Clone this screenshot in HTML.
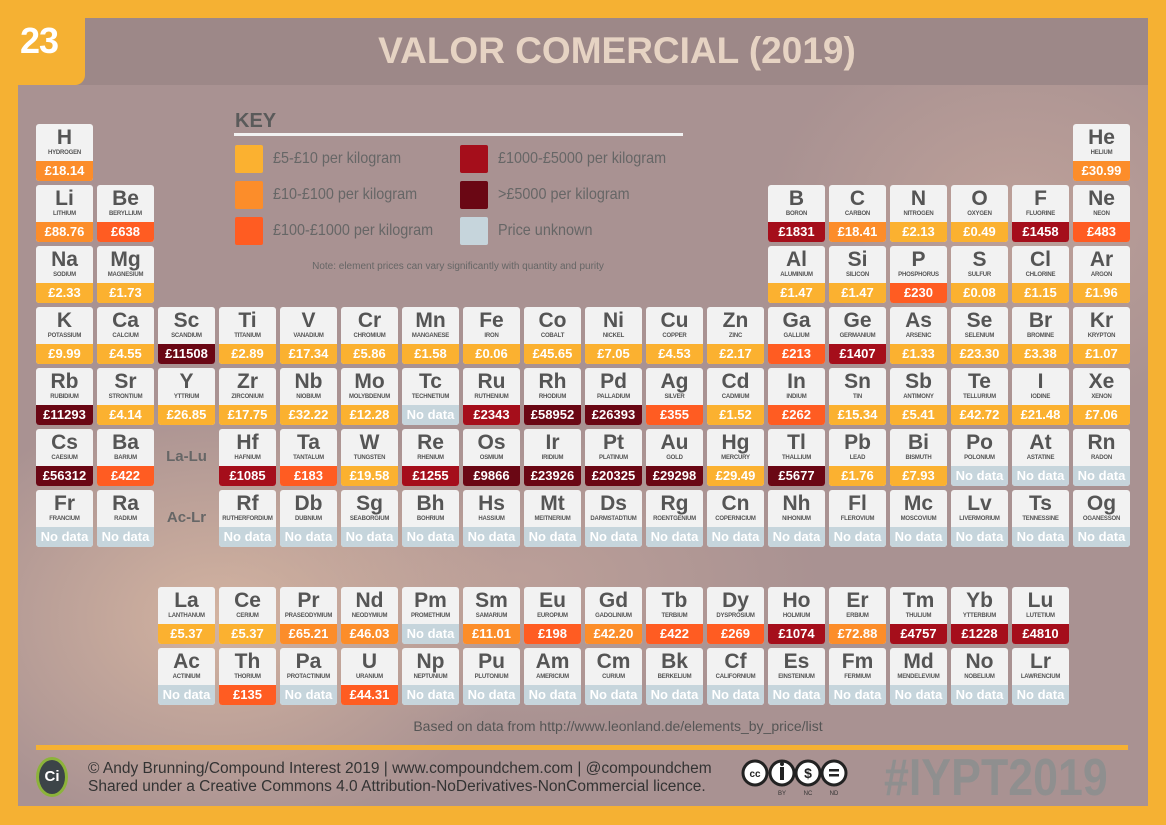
<!DOCTYPE html>
<html><head><meta charset="utf-8"><style>
*{margin:0;padding:0;box-sizing:border-box}
body{width:1166px;height:825px;background:#F5B133;position:relative;overflow:hidden;font-family:"Liberation Sans",sans-serif}
#panel{position:absolute;left:18px;top:18px;width:1130px;height:788px;background:radial-gradient(ellipse 300px 220px at 200px 600px,rgba(225,190,165,.75),rgba(225,190,165,0)),radial-gradient(ellipse 250px 200px at 1000px 200px,rgba(210,175,160,.5),rgba(0,0,0,0)),radial-gradient(ellipse 300px 150px at 500px 560px,rgba(210,175,160,.45),rgba(0,0,0,0)),#a99292}
#hdr{position:absolute;left:18px;top:18px;width:1130px;height:67px;background:#9d8888}
#badge{position:absolute;left:0;top:0;width:85px;height:85px;background:#F5B133;border-bottom-right-radius:10px;color:#fff;font-weight:bold;font-size:36px;padding:20px 0 0 20px;letter-spacing:-1px}
#title{position:absolute;left:52px;width:1130px;top:30px;text-align:center;color:#e6d3c3;font-weight:bold;font-size:37px}
.c{position:absolute;width:57px;height:57px;background:#f2f2f2;border-radius:3px;overflow:hidden;text-align:center}
.c b{display:block;font-size:21px;color:#555;line-height:22px;margin-top:3px}
.c i{display:block;font-style:normal;font-size:6px;color:#555;font-weight:bold;line-height:8px;height:11px;white-space:nowrap;letter-spacing:-.2px}
.c u{position:absolute;left:0;bottom:0;width:57px;height:20px;text-decoration:none;color:#fff;font-weight:bold;font-size:13px;line-height:20px;background:#c6d5dc}
.y u{background:#FBB130}.o u{background:#FC8D2A}.r u{background:#FF5C22}.d u{background:#A50E1B}.k u{background:#6A0714}
.sw{position:absolute;width:28px;height:28px;border-radius:2px}
.kt{position:absolute;font-size:16px;color:#666;white-space:nowrap;transform:scaleX(.9);transform-origin:left}
.lbl{position:absolute;font-size:15px;font-weight:bold;color:#666;width:57px;text-align:center}
</style></head><body>
<div id="panel"></div><div id="hdr"></div>
<div id="badge">23</div>
<div id="title">VALOR COMERCIAL (2019)</div>
<div style="position:absolute;left:235px;top:110px;font-size:20px;font-weight:bold;color:#5a5a5a">KEY</div>
<div style="position:absolute;left:234px;top:133px;width:449px;height:3px;background:#f2f2f2"></div>
<div class="sw" style="left:235px;top:145px;background:#FBB130"></div><div class="kt" style="left:273px;top:150px">£5-£10 per kilogram</div>
<div class="sw" style="left:235px;top:181px;background:#FC8D2A"></div><div class="kt" style="left:273px;top:186px">£10-£100 per kilogram</div>
<div class="sw" style="left:235px;top:217px;background:#FF5C22"></div><div class="kt" style="left:273px;top:222px">£100-£1000 per kilogram</div>
<div class="sw" style="left:460px;top:145px;background:#A50E1B"></div><div class="kt" style="left:498px;top:150px">£1000-£5000 per kilogram</div>
<div class="sw" style="left:460px;top:181px;background:#6A0714"></div><div class="kt" style="left:498px;top:186px">&gt;£5000 per kilogram</div>
<div class="sw" style="left:460px;top:217px;background:#c6d5dc"></div><div class="kt" style="left:498px;top:222px">Price unknown</div>
<div style="position:absolute;left:220px;width:476px;top:261px;text-align:center;font-size:10px;color:#666">Note: element prices can vary significantly with quantity and purity</div>

<div class="c o" style="left:36px;top:124px"><b>H</b><i>HYDROGEN</i><u>£18.14</u></div>
<div class="c o" style="left:1073px;top:124px"><b>He</b><i>HELIUM</i><u>£30.99</u></div>

<div class="c o" style="left:36px;top:185px"><b>Li</b><i>LITHIUM</i><u>£88.76</u></div>
<div class="c r" style="left:97px;top:185px"><b>Be</b><i>BERYLLIUM</i><u>£638</u></div>
<div class="c d" style="left:768px;top:185px"><b>B</b><i>BORON</i><u>£1831</u></div>
<div class="c o" style="left:829px;top:185px"><b>C</b><i>CARBON</i><u>£18.41</u></div>
<div class="c y" style="left:890px;top:185px"><b>N</b><i>NITROGEN</i><u>£2.13</u></div>
<div class="c y" style="left:951px;top:185px"><b>O</b><i>OXYGEN</i><u>£0.49</u></div>
<div class="c d" style="left:1012px;top:185px"><b>F</b><i>FLUORINE</i><u>£1458</u></div>
<div class="c r" style="left:1073px;top:185px"><b>Ne</b><i>NEON</i><u>£483</u></div>

<div class="c y" style="left:36px;top:246px"><b>Na</b><i>SODIUM</i><u>£2.33</u></div>
<div class="c y" style="left:97px;top:246px"><b>Mg</b><i>MAGNESIUM</i><u>£1.73</u></div>
<div class="c y" style="left:768px;top:246px"><b>Al</b><i>ALUMINIUM</i><u>£1.47</u></div>
<div class="c y" style="left:829px;top:246px"><b>Si</b><i>SILICON</i><u>£1.47</u></div>
<div class="c r" style="left:890px;top:246px"><b>P</b><i>PHOSPHORUS</i><u>£230</u></div>
<div class="c y" style="left:951px;top:246px"><b>S</b><i>SULFUR</i><u>£0.08</u></div>
<div class="c y" style="left:1012px;top:246px"><b>Cl</b><i>CHLORINE</i><u>£1.15</u></div>
<div class="c y" style="left:1073px;top:246px"><b>Ar</b><i>ARGON</i><u>£1.96</u></div>

<div class="c y" style="left:36px;top:307px"><b>K</b><i>POTASSIUM</i><u>£9.99</u></div>
<div class="c y" style="left:97px;top:307px"><b>Ca</b><i>CALCIUM</i><u>£4.55</u></div>
<div class="c k" style="left:158px;top:307px"><b>Sc</b><i>SCANDIUM</i><u>£11508</u></div>
<div class="c y" style="left:219px;top:307px"><b>Ti</b><i>TITANIUM</i><u>£2.89</u></div>
<div class="c y" style="left:280px;top:307px"><b>V</b><i>VANADIUM</i><u>£17.34</u></div>
<div class="c y" style="left:341px;top:307px"><b>Cr</b><i>CHROMIUM</i><u>£5.86</u></div>
<div class="c y" style="left:402px;top:307px"><b>Mn</b><i>MANGANESE</i><u>£1.58</u></div>
<div class="c y" style="left:463px;top:307px"><b>Fe</b><i>IRON</i><u>£0.06</u></div>
<div class="c y" style="left:524px;top:307px"><b>Co</b><i>COBALT</i><u>£45.65</u></div>
<div class="c y" style="left:585px;top:307px"><b>Ni</b><i>NICKEL</i><u>£7.05</u></div>
<div class="c y" style="left:646px;top:307px"><b>Cu</b><i>COPPER</i><u>£4.53</u></div>
<div class="c y" style="left:707px;top:307px"><b>Zn</b><i>ZINC</i><u>£2.17</u></div>
<div class="c r" style="left:768px;top:307px"><b>Ga</b><i>GALLIUM</i><u>£213</u></div>
<div class="c d" style="left:829px;top:307px"><b>Ge</b><i>GERMANIUM</i><u>£1407</u></div>
<div class="c y" style="left:890px;top:307px"><b>As</b><i>ARSENIC</i><u>£1.33</u></div>
<div class="c y" style="left:951px;top:307px"><b>Se</b><i>SELENIUM</i><u>£23.30</u></div>
<div class="c y" style="left:1012px;top:307px"><b>Br</b><i>BROMINE</i><u>£3.38</u></div>
<div class="c y" style="left:1073px;top:307px"><b>Kr</b><i>KRYPTON</i><u>£1.07</u></div>

<div class="c k" style="left:36px;top:368px"><b>Rb</b><i>RUBIDIUM</i><u>£11293</u></div>
<div class="c y" style="left:97px;top:368px"><b>Sr</b><i>STRONTIUM</i><u>£4.14</u></div>
<div class="c y" style="left:158px;top:368px"><b>Y</b><i>YTTRIUM</i><u>£26.85</u></div>
<div class="c y" style="left:219px;top:368px"><b>Zr</b><i>ZIRCONIUM</i><u>£17.75</u></div>
<div class="c y" style="left:280px;top:368px"><b>Nb</b><i>NIOBIUM</i><u>£32.22</u></div>
<div class="c y" style="left:341px;top:368px"><b>Mo</b><i>MOLYBDENUM</i><u>£12.28</u></div>
<div class="c" style="left:402px;top:368px"><b>Tc</b><i>TECHNETIUM</i><u>No data</u></div>
<div class="c d" style="left:463px;top:368px"><b>Ru</b><i>RUTHENIUM</i><u>£2343</u></div>
<div class="c k" style="left:524px;top:368px"><b>Rh</b><i>RHODIUM</i><u>£58952</u></div>
<div class="c k" style="left:585px;top:368px"><b>Pd</b><i>PALLADIUM</i><u>£26393</u></div>
<div class="c r" style="left:646px;top:368px"><b>Ag</b><i>SILVER</i><u>£355</u></div>
<div class="c y" style="left:707px;top:368px"><b>Cd</b><i>CADMIUM</i><u>£1.52</u></div>
<div class="c r" style="left:768px;top:368px"><b>In</b><i>INDIUM</i><u>£262</u></div>
<div class="c y" style="left:829px;top:368px"><b>Sn</b><i>TIN</i><u>£15.34</u></div>
<div class="c y" style="left:890px;top:368px"><b>Sb</b><i>ANTIMONY</i><u>£5.41</u></div>
<div class="c y" style="left:951px;top:368px"><b>Te</b><i>TELLURIUM</i><u>£42.72</u></div>
<div class="c y" style="left:1012px;top:368px"><b>I</b><i>IODINE</i><u>£21.48</u></div>
<div class="c y" style="left:1073px;top:368px"><b>Xe</b><i>XENON</i><u>£7.06</u></div>

<div class="c k" style="left:36px;top:429px"><b>Cs</b><i>CAESIUM</i><u>£56312</u></div>
<div class="c r" style="left:97px;top:429px"><b>Ba</b><i>BARIUM</i><u>£422</u></div>
<div class="lbl" style="left:158px;top:448px">La-Lu</div>
<div class="c d" style="left:219px;top:429px"><b>Hf</b><i>HAFNIUM</i><u>£1085</u></div>
<div class="c r" style="left:280px;top:429px"><b>Ta</b><i>TANTALUM</i><u>£183</u></div>
<div class="c y" style="left:341px;top:429px"><b>W</b><i>TUNGSTEN</i><u>£19.58</u></div>
<div class="c d" style="left:402px;top:429px"><b>Re</b><i>RHENIUM</i><u>£1255</u></div>
<div class="c k" style="left:463px;top:429px"><b>Os</b><i>OSMIUM</i><u>£9866</u></div>
<div class="c k" style="left:524px;top:429px"><b>Ir</b><i>IRIDIUM</i><u>£23926</u></div>
<div class="c k" style="left:585px;top:429px"><b>Pt</b><i>PLATINUM</i><u>£20325</u></div>
<div class="c k" style="left:646px;top:429px"><b>Au</b><i>GOLD</i><u>£29298</u></div>
<div class="c y" style="left:707px;top:429px"><b>Hg</b><i>MERCURY</i><u>£29.49</u></div>
<div class="c k" style="left:768px;top:429px"><b>Tl</b><i>THALLIUM</i><u>£5677</u></div>
<div class="c y" style="left:829px;top:429px"><b>Pb</b><i>LEAD</i><u>£1.76</u></div>
<div class="c y" style="left:890px;top:429px"><b>Bi</b><i>BISMUTH</i><u>£7.93</u></div>
<div class="c" style="left:951px;top:429px"><b>Po</b><i>POLONIUM</i><u>No data</u></div>
<div class="c" style="left:1012px;top:429px"><b>At</b><i>ASTATINE</i><u>No data</u></div>
<div class="c" style="left:1073px;top:429px"><b>Rn</b><i>RADON</i><u>No data</u></div>

<div class="c" style="left:36px;top:490px"><b>Fr</b><i>FRANCIUM</i><u>No data</u></div>
<div class="c" style="left:97px;top:490px"><b>Ra</b><i>RADIUM</i><u>No data</u></div>
<div class="lbl" style="left:158px;top:509px">Ac-Lr</div>
<div class="c" style="left:219px;top:490px"><b>Rf</b><i>RUTHERFORDIUM</i><u>No data</u></div>
<div class="c" style="left:280px;top:490px"><b>Db</b><i>DUBNIUM</i><u>No data</u></div>
<div class="c" style="left:341px;top:490px"><b>Sg</b><i>SEABORGIUM</i><u>No data</u></div>
<div class="c" style="left:402px;top:490px"><b>Bh</b><i>BOHRIUM</i><u>No data</u></div>
<div class="c" style="left:463px;top:490px"><b>Hs</b><i>HASSIUM</i><u>No data</u></div>
<div class="c" style="left:524px;top:490px"><b>Mt</b><i>MEITNERIUM</i><u>No data</u></div>
<div class="c" style="left:585px;top:490px"><b>Ds</b><i>DARMSTADTIUM</i><u>No data</u></div>
<div class="c" style="left:646px;top:490px"><b>Rg</b><i>ROENTGENIUM</i><u>No data</u></div>
<div class="c" style="left:707px;top:490px"><b>Cn</b><i>COPERNICIUM</i><u>No data</u></div>
<div class="c" style="left:768px;top:490px"><b>Nh</b><i>NIHONIUM</i><u>No data</u></div>
<div class="c" style="left:829px;top:490px"><b>Fl</b><i>FLEROVIUM</i><u>No data</u></div>
<div class="c" style="left:890px;top:490px"><b>Mc</b><i>MOSCOVIUM</i><u>No data</u></div>
<div class="c" style="left:951px;top:490px"><b>Lv</b><i>LIVERMORIUM</i><u>No data</u></div>
<div class="c" style="left:1012px;top:490px"><b>Ts</b><i>TENNESSINE</i><u>No data</u></div>
<div class="c" style="left:1073px;top:490px"><b>Og</b><i>OGANESSON</i><u>No data</u></div>

<div class="c y" style="left:158px;top:587px"><b>La</b><i>LANTHANUM</i><u>£5.37</u></div>
<div class="c y" style="left:219px;top:587px"><b>Ce</b><i>CERIUM</i><u>£5.37</u></div>
<div class="c o" style="left:280px;top:587px"><b>Pr</b><i>PRASEODYMIUM</i><u>£65.21</u></div>
<div class="c o" style="left:341px;top:587px"><b>Nd</b><i>NEODYMIUM</i><u>£46.03</u></div>
<div class="c" style="left:402px;top:587px"><b>Pm</b><i>PROMETHIUM</i><u>No data</u></div>
<div class="c o" style="left:463px;top:587px"><b>Sm</b><i>SAMARIUM</i><u>£11.01</u></div>
<div class="c r" style="left:524px;top:587px"><b>Eu</b><i>EUROPIUM</i><u>£198</u></div>
<div class="c o" style="left:585px;top:587px"><b>Gd</b><i>GADOLINIUM</i><u>£42.20</u></div>
<div class="c r" style="left:646px;top:587px"><b>Tb</b><i>TERBIUM</i><u>£422</u></div>
<div class="c r" style="left:707px;top:587px"><b>Dy</b><i>DYSPROSIUM</i><u>£269</u></div>
<div class="c d" style="left:768px;top:587px"><b>Ho</b><i>HOLMIUM</i><u>£1074</u></div>
<div class="c o" style="left:829px;top:587px"><b>Er</b><i>ERBIUM</i><u>£72.88</u></div>
<div class="c d" style="left:890px;top:587px"><b>Tm</b><i>THULIUM</i><u>£4757</u></div>
<div class="c d" style="left:951px;top:587px"><b>Yb</b><i>YTTERBIUM</i><u>£1228</u></div>
<div class="c d" style="left:1012px;top:587px"><b>Lu</b><i>LUTETIUM</i><u>£4810</u></div>

<div class="c" style="left:158px;top:648px"><b>Ac</b><i>ACTINIUM</i><u>No data</u></div>
<div class="c r" style="left:219px;top:648px"><b>Th</b><i>THORIUM</i><u>£135</u></div>
<div class="c" style="left:280px;top:648px"><b>Pa</b><i>PROTACTINIUM</i><u>No data</u></div>
<div class="c r" style="left:341px;top:648px"><b>U</b><i>URANIUM</i><u>£44.31</u></div>
<div class="c" style="left:402px;top:648px"><b>Np</b><i>NEPTUNIUM</i><u>No data</u></div>
<div class="c" style="left:463px;top:648px"><b>Pu</b><i>PLUTONIUM</i><u>No data</u></div>
<div class="c" style="left:524px;top:648px"><b>Am</b><i>AMERICIUM</i><u>No data</u></div>
<div class="c" style="left:585px;top:648px"><b>Cm</b><i>CURIUM</i><u>No data</u></div>
<div class="c" style="left:646px;top:648px"><b>Bk</b><i>BERKELIUM</i><u>No data</u></div>
<div class="c" style="left:707px;top:648px"><b>Cf</b><i>CALIFORNIUM</i><u>No data</u></div>
<div class="c" style="left:768px;top:648px"><b>Es</b><i>EINSTEINIUM</i><u>No data</u></div>
<div class="c" style="left:829px;top:648px"><b>Fm</b><i>FERMIUM</i><u>No data</u></div>
<div class="c" style="left:890px;top:648px"><b>Md</b><i>MENDELEVIUM</i><u>No data</u></div>
<div class="c" style="left:951px;top:648px"><b>No</b><i>NOBELIUM</i><u>No data</u></div>
<div class="c" style="left:1012px;top:648px"><b>Lr</b><i>LAWRENCIUM</i><u>No data</u></div>

<div style="position:absolute;left:0;width:1236px;top:718px;text-align:center;font-size:14px;color:#555">Based on data from http://www.leonland.de/elements_by_price/list</div>
<div style="position:absolute;left:36px;top:745px;width:1092px;height:5px;background:#F5B133"></div>
<div style="position:absolute;left:36px;top:757px;width:32px;height:40px;border-radius:50%;border:3px solid #8cb33a;background:#3c4448;color:#fff;font-weight:bold;font-size:15px;text-align:center;line-height:34px">Ci</div>
<div style="position:absolute;left:88px;top:760px;font-size:15.5px;color:#333;line-height:18px;white-space:nowrap">© Andy Brunning/Compound Interest 2019 | www.compoundchem.com | @compoundchem<br>Shared under a Creative Commons 4.0 Attribution-NoDerivatives-NonCommercial licence.</div>
<svg style="position:absolute;left:740px;top:758px" width="120" height="40">
<g fill="#fff" stroke="#222" stroke-width="3"><circle cx="15" cy="15" r="12"/><circle cx="42" cy="15" r="12"/><circle cx="68" cy="15" r="12"/><circle cx="94" cy="15" r="12"/></g>
<text x="15" y="19" font-size="10" font-weight="bold" text-anchor="middle" fill="#222">cc</text>
<rect x="40" y="9" width="4" height="13" fill="#222"/><circle cx="42" cy="6" r="2" fill="#222"/>
<text x="68" y="20" font-size="14" font-weight="bold" text-anchor="middle" fill="#222">$</text>
<rect x="89" y="11" width="10" height="2.5" fill="#222"/><rect x="89" y="16" width="10" height="2.5" fill="#222"/>
<text x="42" y="37" font-size="6" text-anchor="middle" fill="#333">BY</text><text x="68" y="37" font-size="6" text-anchor="middle" fill="#333">NC</text><text x="94" y="37" font-size="6" text-anchor="middle" fill="#333">ND</text>
</svg>
<div style="position:absolute;left:884px;top:748px;font-size:52px;font-weight:bold;color:#8f8f8f;white-space:nowrap;transform:scaleX(.86);transform-origin:left">#IYPT2019</div>
</body></html>
